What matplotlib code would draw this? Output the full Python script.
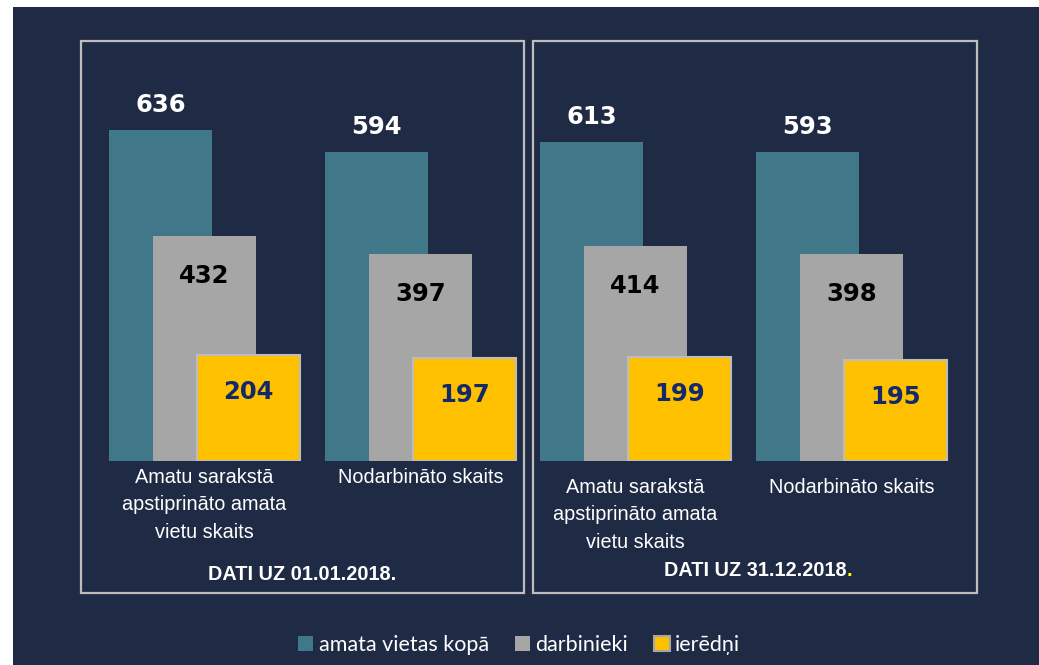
import matplotlib
matplotlib.use("Agg")
import matplotlib.pyplot as plt
from matplotlib.patches import Rectangle, Patch

# ---------------- data ----------------
categories = ["Amatu sarakstā\napstiprināto amata\nvietu skaits", "Nodarbināto skaits"]
series_names = ["amata vietas kopā", "darbinieki", "ierēdņi"]
panel_titles = ["DATI UZ 01.01.2018", "DATI UZ 31.12.2018"]

total_start = [636, 594]
staff_start = [432, 397]
officials_start = [204, 197]

total_end = [613, 593]
staff_end = [414, 398]
officials_end = [199, 195]

# ---------------- style ----------------
W, H = 1039, 665
NAVY = "#1f2a44"
TEAL = "#407889"
GRAY = "#a6a6a6"
YELLOW = "#ffc000"
BORDER = "#bdbdbd"
LABEL_NAVY = "#13296a"
colors = [TEAL, GRAY, YELLOW]
SANS = ["Liberation Sans", "DejaVu Sans"]

fig = plt.figure(figsize=(W / 100, H / 100), dpi=100)
fig.patch.set_facecolor("white")
fig.add_artist(Rectangle((13 / W, 0), 1 - 13 / W, 1 - 7 / H, transform=fig.transFigure,
                         facecolor=NAVY, edgecolor="none", zorder=0))

def fx(px):
    return px / W

def fy(py):
    return 1 - py / H

PX_PER_UNIT = 0.5204          # pixels per data unit (vertical)
GROUP_PX = 216.0              # pixel distance between groups
BAR_W = 103 / GROUP_PX
OFFSET = 44 / GROUP_PX
base_px, top_px = 461, 41

panels = [
    dict(left=81, right=524, gc=204.5, data=[total_start, staff_start, officials_start],
         title=panel_titles[0], title_y=574, cat_pad=7, dot=False),
    dict(left=533, right=977, gc=635.5, data=[total_end, staff_end, officials_end],
         title=panel_titles[1], title_y=571, cat_pad=17, dot=True),
]

label_offsets_px = [25, -40, -37]   # label centre relative to bar top (pixels, + = up)
label_colors = ["white", "black", LABEL_NAVY]

for p in panels:
    fig.add_artist(Rectangle((fx(p["left"]), fy(593)), (p["right"] - p["left"]) / W,
                             (593 - 41) / H, transform=fig.transFigure, fill=False,
                             edgecolor=BORDER, lw=1.6, zorder=1))
    ax = fig.add_axes([fx(p["left"]), fy(base_px), (p["right"] - p["left"]) / W,
                       (base_px - top_px) / H])
    ax.set_xlim((p["left"] - p["gc"]) / GROUP_PX, (p["right"] - p["gc"]) / GROUP_PX)
    ax.set_ylim(0, (base_px - top_px) / PX_PER_UNIT)
    ax.axis("off")
    ax.patch.set_alpha(0)
    xs = list(range(len(categories)))
    for si, vals in enumerate(p["data"]):
        pos = [x + (si - 1) * OFFSET for x in xs]
        ec = BORDER if si == 2 else "none"
        lw = 1.5 if si == 2 else 0
        bars = ax.bar(pos, vals, width=BAR_W, color=colors[si], edgecolor=ec,
                      linewidth=lw, zorder=2 + si)
        for b, v in zip(bars, vals):
            ax.annotate(str(v), xy=(b.get_x() + b.get_width() / 2, v),
                        xytext=(0, label_offsets_px[si] * 0.72), textcoords="offset points",
                        ha="center", va="center", fontsize=17.5, fontweight="bold",
                        color=label_colors[si], family="DejaVu Sans", zorder=10,
                        annotation_clip=False)
    for x, c in zip(xs, categories):
        ax.annotate(c, xy=(x, 0), xytext=(0, -p["cat_pad"] * 0.72), textcoords="offset points",
                    ha="center", va="top", fontsize=14.3, color="white",
                    family=SANS, linespacing=1.56, annotation_clip=False)
    cx = (p["left"] + p["right"]) / 2
    t = fig.text(fx(cx), fy(p["title_y"]), p["title"] + ("" if p["dot"] else "."),
                 ha="center", va="center", fontsize=14.3, fontweight="bold",
                 color="white", family=SANS)
    if p["dot"]:
        fig.canvas.draw()
        bb = t.get_window_extent()
        fig.text(bb.x1 / W, fy(p["title_y"]), ".", fontsize=14.3, fontweight="bold",
                 color="#ffff00", family=SANS, va="center", ha="left")

handles = [Patch(facecolor=TEAL, edgecolor="none"),
           Patch(facecolor=GRAY, edgecolor="none"),
           Patch(facecolor=YELLOW, edgecolor=GRAY, linewidth=1.5)]
leg = fig.legend(handles, series_names, loc="center", bbox_to_anchor=(fx(519), fy(645)),
                 ncol=3, frameon=False, handlelength=0.72, handleheight=0.72,
                 handletextpad=0.25, columnspacing=1.2, prop={"family": "Lato", "size": 15.5})
for txt in leg.get_texts():
    txt.set_color("white")

fig.savefig("out.png", dpi=100, facecolor=fig.get_facecolor())
